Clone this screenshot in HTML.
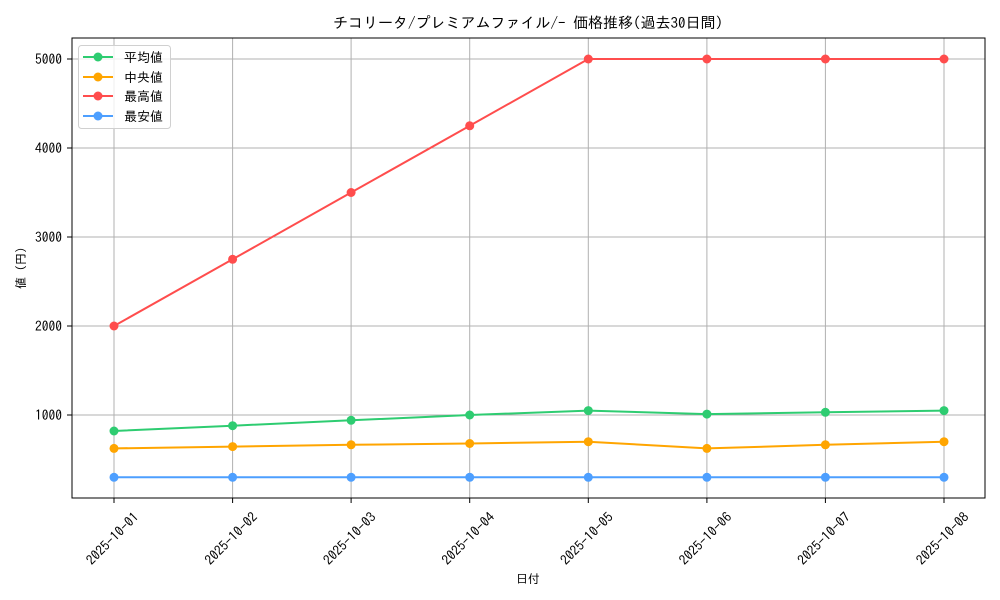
<!DOCTYPE html>
<html><head><meta charset="utf-8"><style>body{margin:0;background:#fff}svg{display:block;font-family:"IPAGothic","Noto Sans CJK JP",sans-serif}</style></head><body>
<svg width="1000" height="600" viewBox="0 0 1000 600">
<rect width="1000" height="600" fill="#fff"/>
<text x="528" y="28" font-size="15" text-anchor="middle">チコリータ/プレミアムファイル/- 価格推移(過去30日間)</text>
<g stroke="#b0b0b0" stroke-width="1">
<line x1="114" y1="38" x2="114" y2="498"/><line x1="232.6" y1="38" x2="232.6" y2="498"/><line x1="351.1" y1="38" x2="351.1" y2="498"/><line x1="469.7" y1="38" x2="469.7" y2="498"/><line x1="588.3" y1="38" x2="588.3" y2="498"/><line x1="706.9" y1="38" x2="706.9" y2="498"/><line x1="825.4" y1="38" x2="825.4" y2="498"/><line x1="944" y1="38" x2="944" y2="498"/>
<line x1="72" y1="415" x2="985" y2="415"/><line x1="72" y1="326" x2="985" y2="326"/><line x1="72" y1="237" x2="985" y2="237"/><line x1="72" y1="148" x2="985" y2="148"/><line x1="72" y1="59" x2="985" y2="59"/>
</g>
<rect x="72" y="38" width="913" height="460" fill="none" stroke="#000" stroke-width="1"/>
<g stroke="#000"><line x1="67" y1="415" x2="72" y2="415"/><line x1="67" y1="326" x2="72" y2="326"/><line x1="67" y1="237" x2="72" y2="237"/><line x1="67" y1="148" x2="72" y2="148"/><line x1="67" y1="59" x2="72" y2="59"/>
<line x1="114" y1="498" x2="114" y2="503"/><line x1="232.6" y1="498" x2="232.6" y2="503"/><line x1="351.1" y1="498" x2="351.1" y2="503"/><line x1="469.7" y1="498" x2="469.7" y2="503"/><line x1="588.3" y1="498" x2="588.3" y2="503"/><line x1="706.9" y1="498" x2="706.9" y2="503"/><line x1="825.4" y1="498" x2="825.4" y2="503"/><line x1="944" y1="498" x2="944" y2="503"/></g>
<g font-size="13.5" text-anchor="end"><text x="62" y="420">1000</text><text x="62" y="331">2000</text><text x="62" y="242">3000</text><text x="62" y="153">4000</text><text x="62" y="64">5000</text></g>
<g font-size="13.5" text-anchor="middle">
<text transform="translate(113,539) rotate(-45)" dy="4">2025-10-01</text>
<text transform="translate(231.6,539) rotate(-45)" dy="4">2025-10-02</text>
<text transform="translate(350.1,539) rotate(-45)" dy="4">2025-10-03</text>
<text transform="translate(468.7,539) rotate(-45)" dy="4">2025-10-04</text>
<text transform="translate(587.3,539) rotate(-45)" dy="4">2025-10-05</text>
<text transform="translate(705.9,539) rotate(-45)" dy="4">2025-10-06</text>
<text transform="translate(824.4,539) rotate(-45)" dy="4">2025-10-07</text>
<text transform="translate(943,539) rotate(-45)" dy="4">2025-10-08</text>
</g>
<text x="528" y="583" font-size="12" text-anchor="middle">日付</text>
<text transform="translate(25,268) rotate(-90)" font-size="12" text-anchor="middle">値 (円)</text>
<g fill="none" stroke-width="2">
<polyline stroke="#2ecc71" points="114,431 232.6,425.7 351.1,420.3 469.7,415 588.3,410.6 706.9,414.1 825.4,412.3 944,410.6"/>
<polyline stroke="#ffa500" points="114,448.4 232.6,446.6 351.1,444.8 469.7,443.5 588.3,441.7 706.9,448.4 825.4,444.8 944,441.7"/>
<polyline stroke="#ff4d4d" points="114,326 232.6,259.3 351.1,192.5 469.7,125.8 588.3,59 706.9,59 825.4,59 944,59"/>
<polyline stroke="#4d9fff" points="114,477.3 944,477.3"/>
</g>
<g fill="#2ecc71"><circle cx="114" cy="431" r="4.5"/><circle cx="232.6" cy="425.7" r="4.5"/><circle cx="351.1" cy="420.3" r="4.5"/><circle cx="469.7" cy="415" r="4.5"/><circle cx="588.3" cy="410.6" r="4.5"/><circle cx="706.9" cy="414.1" r="4.5"/><circle cx="825.4" cy="412.3" r="4.5"/><circle cx="944" cy="410.6" r="4.5"/></g>
<g fill="#ffa500"><circle cx="114" cy="448.4" r="4.5"/><circle cx="232.6" cy="446.6" r="4.5"/><circle cx="351.1" cy="444.8" r="4.5"/><circle cx="469.7" cy="443.5" r="4.5"/><circle cx="588.3" cy="441.7" r="4.5"/><circle cx="706.9" cy="448.4" r="4.5"/><circle cx="825.4" cy="444.8" r="4.5"/><circle cx="944" cy="441.7" r="4.5"/></g>
<g fill="#ff4d4d"><circle cx="114" cy="326" r="4.5"/><circle cx="232.6" cy="259.3" r="4.5"/><circle cx="351.1" cy="192.5" r="4.5"/><circle cx="469.7" cy="125.8" r="4.5"/><circle cx="588.3" cy="59" r="4.5"/><circle cx="706.9" cy="59" r="4.5"/><circle cx="825.4" cy="59" r="4.5"/><circle cx="944" cy="59" r="4.5"/></g>
<g fill="#4d9fff"><circle cx="114" cy="477.3" r="4.5"/><circle cx="232.6" cy="477.3" r="4.5"/><circle cx="351.1" cy="477.3" r="4.5"/><circle cx="469.7" cy="477.3" r="4.5"/><circle cx="588.3" cy="477.3" r="4.5"/><circle cx="706.9" cy="477.3" r="4.5"/><circle cx="825.4" cy="477.3" r="4.5"/><circle cx="944" cy="477.3" r="4.5"/></g>
<rect x="78.5" y="45.5" width="92" height="83" rx="3" fill="#fff" fill-opacity="0.8" stroke="#d0d0d0"/>
<g stroke-width="2">
<line x1="83" y1="57" x2="113" y2="57" stroke="#2ecc71"/><circle cx="98" cy="57" r="4.5" fill="#2ecc71"/>
<line x1="83" y1="77" x2="113" y2="77" stroke="#ffa500"/><circle cx="98" cy="77" r="4.5" fill="#ffa500"/>
<line x1="83" y1="96" x2="113" y2="96" stroke="#ff4d4d"/><circle cx="98" cy="96" r="4.5" fill="#ff4d4d"/>
<line x1="83" y1="116" x2="113" y2="116" stroke="#4d9fff"/><circle cx="98" cy="116" r="4.5" fill="#4d9fff"/>
</g>
<g font-size="13"><text x="124" y="62">平均値</text><text x="124" y="82">中央値</text><text x="124" y="101">最高値</text><text x="124" y="121">最安値</text></g>
</svg>
</body></html>
